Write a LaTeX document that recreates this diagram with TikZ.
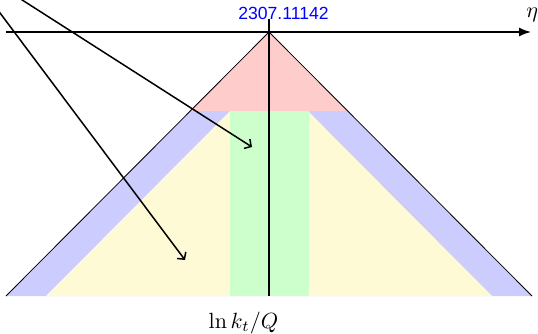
\documentclass[tikz,border=0pt]{standalone}
\usepackage{fontspec}
\newfontfamily\numfont{Liberation Sans}
\usetikzlibrary{arrows.meta}
\definecolor{redfill}{RGB}{255,204,204}
\definecolor{bluefill}{RGB}{204,204,255}
\definecolor{greenfill}{RGB}{204,255,204}
\definecolor{yellowfill}{RGB}{255,250,214}
\tikzset{
  axisline/.style={line width=1.5pt},
  edgeline/.style={line width=0.8pt},
  pointer/.style={line width=1.5pt,-{Straight Barb[length=5pt,width=11pt]}},
  lbl/.style={inner sep=0pt,scale=2.2}
}
\begin{document}
\begin{tikzpicture}[x=1pt,y=-1pt]
\useasboundingbox (0,0) rectangle (538,334);
\clip (0,0) rectangle (538,334);
% key points
\coordinate (apex) at (269,32);
\coordinate (bl) at (6,296);
\coordinate (br) at (532,296);
\coordinate (iapex) at (269,72);
\coordinate (ibl) at (46,296);
\coordinate (ibr) at (492,296);
% fills
\fill[bluefill] (apex) -- (bl) -- (br) -- cycle;
\fill[yellowfill] (iapex) -- (ibl) -- (ibr) -- cycle;
\fill[greenfill] (229.5,100) rectangle (308.5,296);
\fill[redfill] (apex) -- (190,111) -- (348,111) -- cycle;
% edges
\draw[edgeline] (bl) -- (apex) -- (br);
% axes
\coordinate (hstart) at (6,32);
\coordinate (hend) at (531,32);
\draw[axisline,-{Latex[length=12pt,width=9pt]}] (hstart) -- (hend);
\coordinate (vtop) at (269,19);
\coordinate (vbot) at (269,296);
\draw[axisline] (vtop) -- (vbot);
% labels
\node[lbl,anchor=base west] (eta) at (526,18) {$\eta$};
\node[lbl,anchor=base] (kt) at (243.5,328) {$\ln k_t/Q$};
\node[inner sep=0pt,anchor=base,text=blue] (num) at (283.5,20) {\numfont\fontsize{17.6}{20}\selectfont 2307.11142};
% pointers
\coordinate (s1) at (-20,-27);
\coordinate (e1) at (252,147);
\coordinate (s2) at (-20,-13.75);
\coordinate (e2) at (185,260);
\draw[pointer] (s1) -- (e1);
\draw[pointer] (s2) -- (e2);
\end{tikzpicture}
\end{document}
